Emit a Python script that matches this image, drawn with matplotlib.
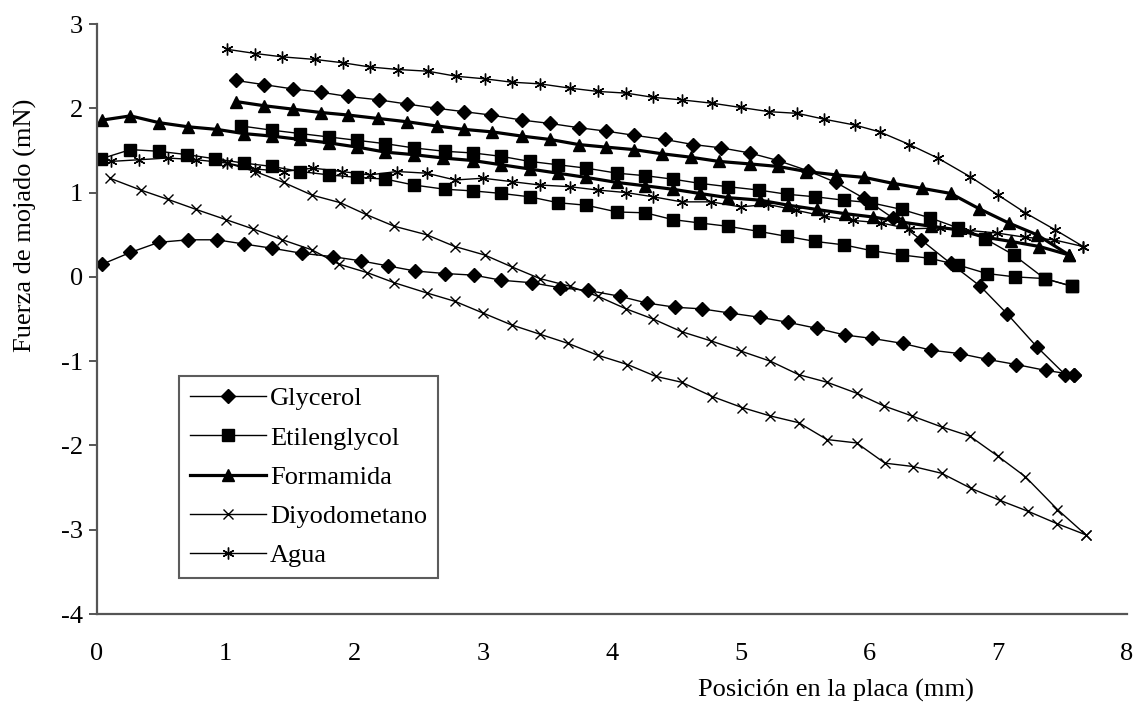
import matplotlib
matplotlib.use("Agg")
import matplotlib.pyplot as plt
from matplotlib.lines import Line2D

plt.rcParams['font.family'] = ['Liberation Serif', 'DejaVu Serif']
plt.rcParams['axes.unicode_minus'] = False

# Glycerol: avance (desde 0) y retroceso (desde ~1 mm)
gly_adv_x = [0.04, 0.26, 0.48, 0.71, 0.93, 1.14, 1.36, 1.59, 1.83, 2.05, 2.26, 2.47, 2.70, 2.93,
             3.14, 3.38, 3.60, 3.81, 4.06, 4.27, 4.49, 4.70, 4.92, 5.15, 5.37, 5.59, 5.81, 6.02,
             6.26, 6.48, 6.70, 6.92, 7.14, 7.37, 7.59]
gly_adv_y = [0.15, 0.29, 0.41, 0.44, 0.44, 0.39, 0.34, 0.28, 0.24, 0.19, 0.13, 0.07, 0.04, 0.02,
             -0.04, -0.07, -0.13, -0.16, -0.23, -0.31, -0.36, -0.38, -0.43, -0.48, -0.54, -0.61, -0.69, -0.73,
             -0.79, -0.87, -0.91, -0.98, -1.04, -1.11, -1.16]
gly_rec_x = [1.08, 1.30, 1.52, 1.74, 1.95, 2.19, 2.41, 2.64, 2.85, 3.06, 3.30, 3.52, 3.74, 3.95,
             4.17, 4.41, 4.63, 4.85, 5.07, 5.29, 5.52, 5.74, 5.96, 6.18, 6.40, 6.63, 6.86, 7.07,
             7.30, 7.52, 7.59]
gly_rec_y = [2.33, 2.28, 2.23, 2.19, 2.14, 2.10, 2.05, 2.00, 1.96, 1.92, 1.86, 1.82, 1.77, 1.73,
             1.68, 1.63, 1.57, 1.53, 1.47, 1.38, 1.26, 1.12, 0.93, 0.70, 0.44, 0.16, -0.11, -0.44,
             -0.83, -1.16, -1.16]

# Etilenglycol
eti_adv_x = [0.03, 0.26, 0.48, 0.70, 0.92, 1.14, 1.36, 1.58, 1.80, 2.02, 2.24, 2.46, 2.70, 2.92,
             3.14, 3.36, 3.58, 3.80, 4.04, 4.26, 4.47, 4.68, 4.90, 5.14, 5.36, 5.58, 5.80, 6.02,
             6.25, 6.47, 6.69, 6.91, 7.13, 7.36, 7.57]
eti_adv_y = [1.40, 1.51, 1.49, 1.45, 1.40, 1.35, 1.31, 1.25, 1.21, 1.18, 1.16, 1.09, 1.04, 1.02,
             0.99, 0.95, 0.88, 0.85, 0.77, 0.76, 0.68, 0.64, 0.60, 0.54, 0.48, 0.42, 0.38, 0.31,
             0.26, 0.22, 0.14, 0.04, 0.00, -0.02, -0.11]
eti_rec_x = [1.12, 1.36, 1.58, 1.80, 2.02, 2.24, 2.46, 2.70, 2.92, 3.14, 3.36, 3.58, 3.80, 4.04,
             4.26, 4.47, 4.68, 4.90, 5.14, 5.36, 5.58, 5.80, 6.01, 6.25, 6.47, 6.69, 6.90, 7.12,
             7.36, 7.57]
eti_rec_y = [1.79, 1.74, 1.70, 1.66, 1.62, 1.58, 1.53, 1.49, 1.47, 1.43, 1.37, 1.33, 1.29, 1.23,
             1.20, 1.16, 1.11, 1.07, 1.03, 0.98, 0.95, 0.91, 0.88, 0.80, 0.70, 0.58, 0.45, 0.26,
             -0.02, -0.11]

# Formamida
for_adv_x = [0.04, 0.26, 0.48, 0.71, 0.93, 1.14, 1.36, 1.58, 1.80, 2.02, 2.24, 2.46, 2.69, 2.92,
             3.14, 3.36, 3.58, 3.80, 4.04, 4.26, 4.47, 4.68, 4.90, 5.15, 5.37, 5.59, 5.81, 6.03,
             6.25, 6.48, 6.68, 6.90, 7.10, 7.32, 7.55]
for_adv_y = [1.86, 1.91, 1.83, 1.78, 1.75, 1.70, 1.67, 1.63, 1.59, 1.54, 1.48, 1.45, 1.41, 1.38,
             1.33, 1.28, 1.23, 1.18, 1.12, 1.08, 1.04, 0.99, 0.94, 0.91, 0.85, 0.80, 0.75, 0.71,
             0.65, 0.60, 0.56, 0.47, 0.42, 0.36, 0.26]
for_rec_x = [1.08, 1.30, 1.52, 1.74, 1.95, 2.18, 2.41, 2.64, 2.85, 3.07, 3.30, 3.52, 3.74, 3.95,
             4.17, 4.39, 4.61, 4.83, 5.07, 5.29, 5.51, 5.74, 5.96, 6.18, 6.41, 6.63, 6.85, 7.08,
             7.30, 7.55]
for_rec_y = [2.08, 2.03, 1.99, 1.95, 1.92, 1.88, 1.84, 1.79, 1.75, 1.72, 1.67, 1.63, 1.57, 1.54,
             1.51, 1.46, 1.42, 1.37, 1.34, 1.31, 1.25, 1.21, 1.18, 1.11, 1.05, 0.99, 0.81, 0.64,
             0.50, 0.26]

# Diyodometano
diy_adv_x = [0.10, 0.34, 0.55, 0.77, 1.00, 1.21, 1.44, 1.67, 1.88, 2.10, 2.31, 2.56, 2.78, 3.00,
             3.22, 3.44, 3.66, 3.89, 4.12, 4.34, 4.54, 4.78, 5.01, 5.23, 5.45, 5.67, 5.90, 6.12,
             6.34, 6.56, 6.79, 7.01, 7.23, 7.46, 7.68]
diy_adv_y = [1.17, 1.03, 0.92, 0.80, 0.68, 0.57, 0.44, 0.32, 0.15, 0.05, -0.07, -0.19, -0.29, -0.43,
             -0.57, -0.68, -0.79, -0.93, -1.04, -1.18, -1.25, -1.42, -1.55, -1.65, -1.73, -1.93, -1.97, -2.21,
             -2.25, -2.33, -2.51, -2.65, -2.78, -2.93, -3.06]
diy_rec_x = [1.01, 1.23, 1.45, 1.67, 1.89, 2.09, 2.31, 2.56, 2.78, 3.01, 3.22, 3.44, 3.67, 3.89,
             4.11, 4.32, 4.54, 4.77, 5.00, 5.23, 5.45, 5.67, 5.90, 6.11, 6.33, 6.56, 6.78, 7.00,
             7.21, 7.46, 7.68]
diy_rec_y = [1.35, 1.25, 1.12, 0.97, 0.88, 0.74, 0.60, 0.50, 0.36, 0.26, 0.12, -0.02, -0.11, -0.23,
             -0.38, -0.50, -0.65, -0.76, -0.88, -1.00, -1.16, -1.25, -1.38, -1.53, -1.65, -1.78, -1.89, -2.13,
             -2.37, -2.76, -3.06]

# Agua
agu_adv_x = [0.11, 0.33, 0.55, 0.77, 1.01, 1.23, 1.45, 1.68, 1.90, 2.12, 2.33, 2.56, 2.78, 3.00,
             3.22, 3.44, 3.67, 3.89, 4.11, 4.32, 4.54, 4.77, 5.00, 5.21, 5.43, 5.65, 5.87, 6.09,
             6.31, 6.55, 6.78, 6.99, 7.21, 7.43, 7.66]
agu_adv_y = [1.37, 1.39, 1.41, 1.39, 1.35, 1.28, 1.25, 1.29, 1.25, 1.21, 1.25, 1.23, 1.15, 1.17,
             1.13, 1.09, 1.07, 1.03, 1.00, 0.95, 0.89, 0.89, 0.83, 0.86, 0.79, 0.72, 0.67, 0.64,
             0.57, 0.58, 0.55, 0.52, 0.47, 0.44, 0.36]
agu_rec_x = [1.01, 1.23, 1.44, 1.69, 1.91, 2.12, 2.34, 2.57, 2.79, 3.01, 3.22, 3.44, 3.67, 3.89,
             4.11, 4.32, 4.54, 4.78, 5.00, 5.22, 5.44, 5.65, 5.89, 6.08, 6.31, 6.53, 6.78, 7.00,
             7.21, 7.44, 7.66]
agu_rec_y = [2.70, 2.65, 2.61, 2.58, 2.54, 2.49, 2.46, 2.44, 2.38, 2.35, 2.31, 2.29, 2.24, 2.20,
             2.18, 2.13, 2.10, 2.06, 2.01, 1.96, 1.94, 1.87, 1.80, 1.72, 1.57, 1.41, 1.19, 0.97,
             0.76, 0.56, 0.36]

labels = ["Glycerol", "Etilenglycol", "Formamida", "Diyodometano", "Agua"]

asterisk = (6, 2, 0)
styles = {
    "Glycerol": dict(marker='D', ms=7.5, lw=1.0),
    "Etilenglycol": dict(marker='s', ms=8, lw=1.0),
    "Formamida": dict(marker='^', ms=8.5, lw=2.3),
    "Diyodometano": dict(marker='x', ms=7, lw=1.0, mew=1.0),
    "Agua": dict(marker=asterisk, ms=8.5, lw=1.0, mew=1.0),
}
curves = {
    "Glycerol": [(gly_adv_x, gly_adv_y), (gly_rec_x, gly_rec_y)],
    "Etilenglycol": [(eti_adv_x, eti_adv_y), (eti_rec_x, eti_rec_y)],
    "Formamida": [(for_adv_x, for_adv_y), (for_rec_x, for_rec_y)],
    "Diyodometano": [(diy_adv_x, diy_adv_y), (diy_rec_x, diy_rec_y)],
    "Agua": [(agu_adv_x, agu_adv_y), (agu_rec_x, agu_rec_y)],
}

fig = plt.figure(figsize=(11.37, 7.04), dpi=100)
ax = fig.add_axes([0.0853, 0.1278, 0.9059, 0.8381])

for name in labels:
    for xs, ys in curves[name]:
        ax.plot(xs, ys, color='black', mfc='black', mec='black', **styles[name])

ax.set_xlim(0, 8)
ax.set_ylim(-4, 3)
ax.set_xticks(range(0, 9))
ax.set_yticks(range(-4, 4))
ax.spines['top'].set_visible(False)
ax.spines['right'].set_visible(False)
for s in ['left', 'bottom']:
    ax.spines[s].set_color('#555555')
    ax.spines[s].set_linewidth(1.6)
ax.tick_params(axis='y', direction='out', length=6, width=1.4, color='#555555',
               labelsize=19, pad=4)
ax.tick_params(axis='x', length=0, labelsize=19, pad=21)

fig.text(25 / 1137, 1 - 225 / 704, "Fuerza de mojado (mN)", rotation=90,
         ha='center', va='center', fontsize=19)
fig.text(836 / 1137, 1 - 690 / 704, "Posición en la placa (mm)",
         ha='center', va='center', fontsize=19)

handles = [Line2D([0], [0], color='black', mfc='black', mec='black', **styles[n]) for n in labels]
leg = ax.legend(handles, labels, loc='upper left', bbox_to_anchor=(0.0796, 0.403),
                borderaxespad=0, fontsize=19, frameon=True, fancybox=False,
                handlelength=2.9, handletextpad=0.15, labelspacing=0.6,
                borderpad=0.4)
leg.get_frame().set_edgecolor('#333333')
leg.get_frame().set_linewidth(1.5)

fig.savefig("out.png", dpi=100)
